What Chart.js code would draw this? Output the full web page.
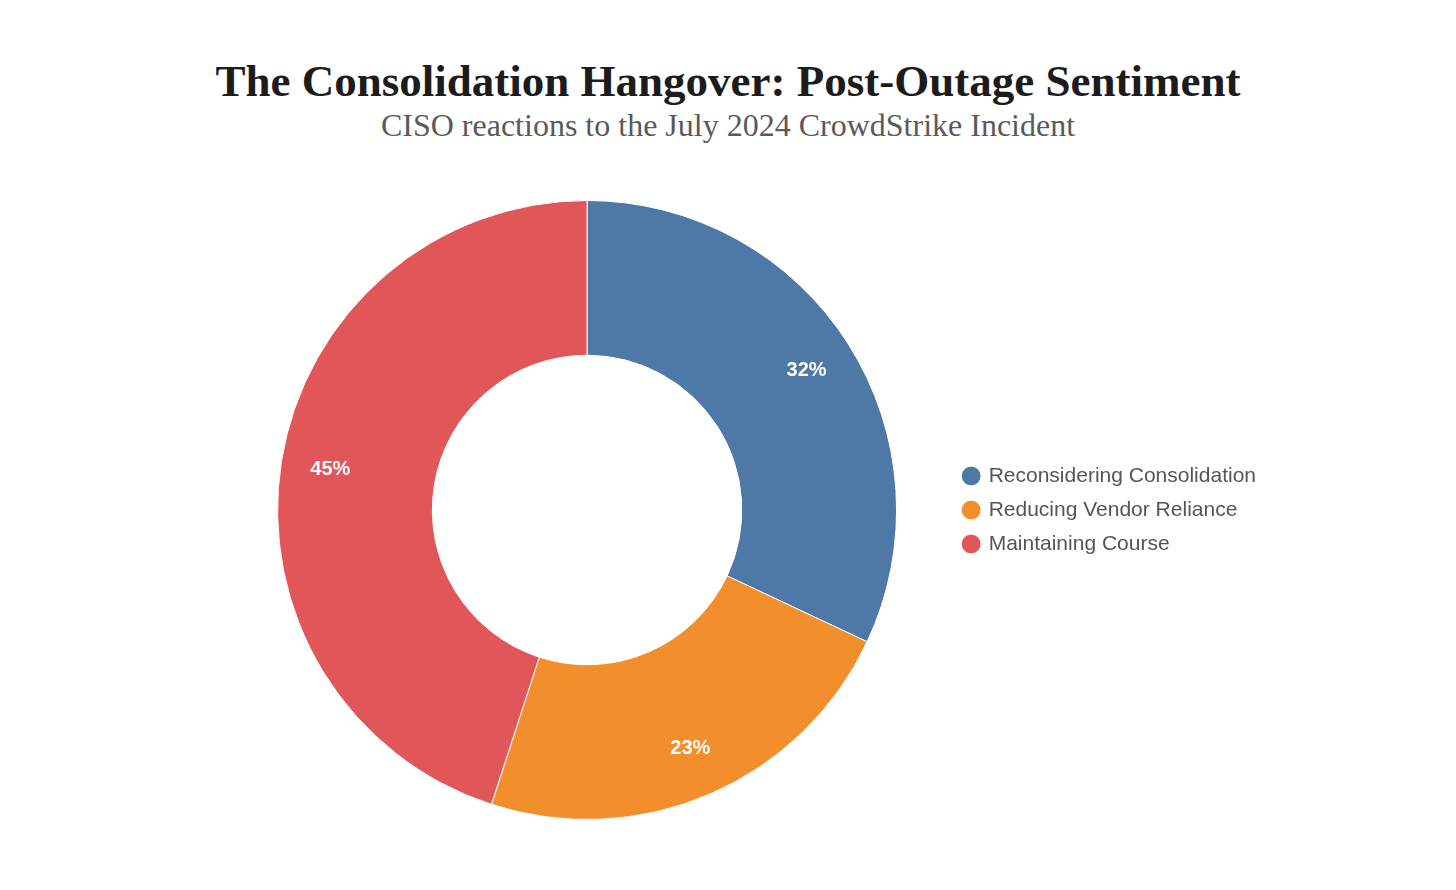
<!DOCTYPE html>
<html>
<head>
<meta charset="utf-8">
<title>Post-Outage Sentiment</title>
<script src="https://cdn.jsdelivr.net/npm/chart.js@4"></script>
<style>
  html, body { margin: 0; padding: 0; background: #fff; }
  .head { width: 1456px; text-align: center; font-family: "Liberation Serif", serif; }
  .head h1 { margin: 0; padding-top: 56px; font-size: 45px; line-height: 50px; color: #1c1c1c; font-weight: bold; }
  .head p { margin: 0; font-size: 32px; line-height: 38px; color: #5a5a5a; }
  #wrap { position: absolute; left: 0; top: 170px; width: 1456px; height: 720px; }
</style>
</head>
<body>
<div class="head">
  <h1>The Consolidation Hangover: Post-Outage Sentiment</h1>
  <p>CISO reactions to the July 2024 CrowdStrike Incident</p>
</div>
<div id="wrap"><canvas id="sentiment"></canvas></div>
<script>
var categories = ['Reconsidering Consolidation', 'Reducing Vendor Reliance', 'Maintaining Course'];
var shares = [32, 23, 45];
var sliceColors = ['#4e79a7', '#f28e2b', '#e15759'];

// percentage labels inside each slice
var sliceLabels = {
    id: 'sliceLabels',
    afterDatasetsDraw: function (chart) {
        var ctx = chart.ctx;
        var meta = chart.getDatasetMeta(0);
        ctx.save();
        ctx.fillStyle = '#ffffff';
        ctx.font = 'bold 20px "Liberation Sans", Arial, sans-serif';
        ctx.textAlign = 'center';
        ctx.textBaseline = 'middle';
        meta.data.forEach(function (arc, i) {
            var p = arc.getProps(['x', 'y', 'startAngle', 'endAngle', 'innerRadius', 'outerRadius'], true);
            var mid = (p.startAngle + p.endAngle) / 2;
            var r = p.innerRadius + (p.outerRadius - p.innerRadius) * 0.68;
            ctx.fillText(shares[i] + '%', p.x + Math.cos(mid) * r, p.y + Math.sin(mid) * r);
        });
        ctx.restore();
    }
};

new Chart('sentiment', {
    type: 'doughnut',
    data: {
        labels: categories,
        datasets: [{
            data: shares,
            backgroundColor: sliceColors,
            borderColor: '#ffffff',
            borderWidth: 1
        }]
    },
    options: {
        responsive: true,
        maintainAspectRatio: false,
        animation: false,
        cutout: '50%',
        layout: {
            padding: { left: 223, right: 190, top: 30, bottom: 70 }
        },
        plugins: {
            legend: {
                position: 'right',
                fullSize: false,
                labels: {
                    usePointStyle: true,
                    pointStyle: 'circle',
                    boxWidth: 14,
                    boxHeight: 14,
                    padding: 13,
                    color: '#555555',
                    font: { family: '"Liberation Sans", Arial, sans-serif', size: 21 }
                }
            },
            tooltip: { enabled: false }
        }
    },
    plugins: [sliceLabels]
});
</script>
</body>
</html>
